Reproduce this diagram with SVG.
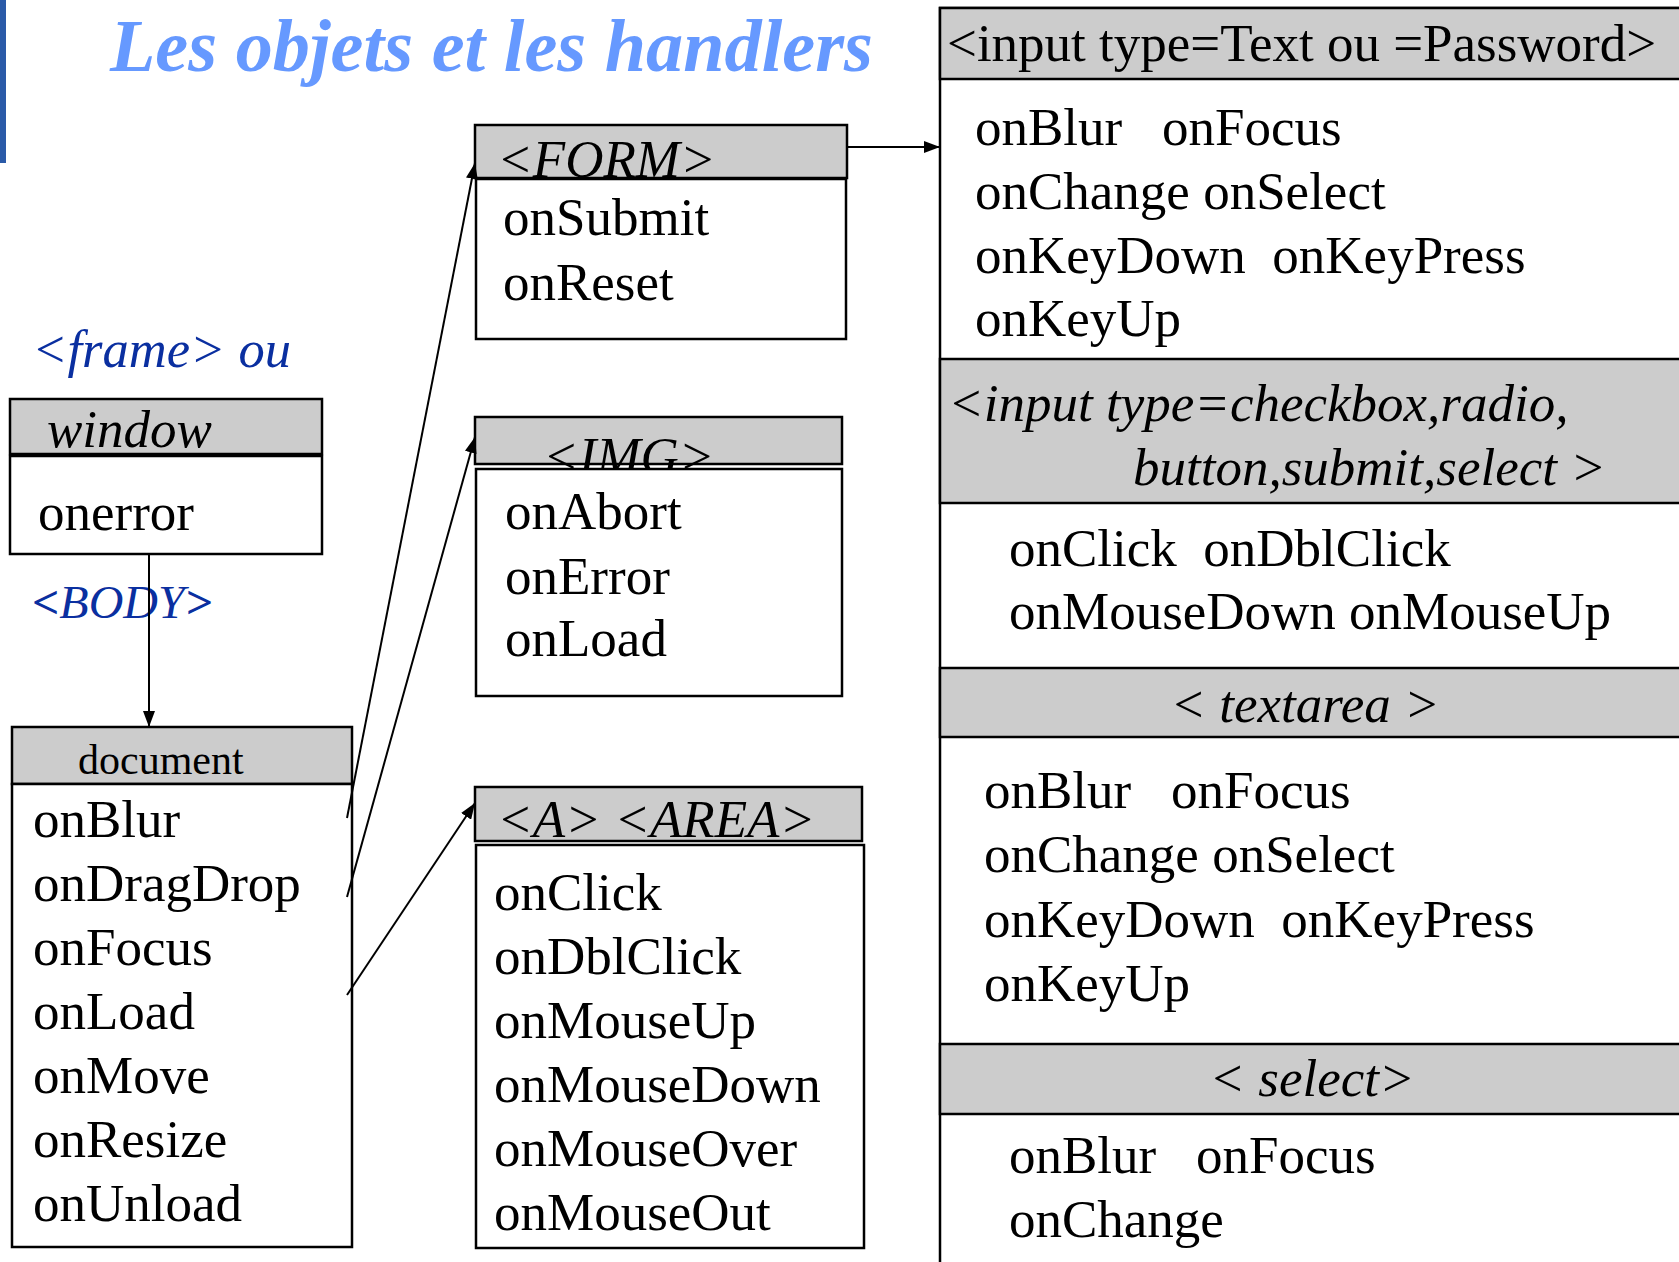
<svg xmlns="http://www.w3.org/2000/svg" width="1679" height="1262" viewBox="0 0 1679 1262">
  <style>
    text { font-family: "Liberation Serif", "Times New Roman", serif; fill: #000; }
    .t { font-size: 53px; }
    .it { font-size: 53px; font-style: italic; }
    .title { font-size: 74px; font-style: italic; font-weight: bold; fill: #6699ff; }
    .blue { font-size: 52px; font-style: italic; fill: #0a2fa0; }
    .hdr { fill: #cccccc; stroke: #000; stroke-width: 2.5; }
    .box { fill: #ffffff; stroke: #000; stroke-width: 2.5; }
    .link { stroke: #000; stroke-width: 2; fill: none; marker-end: url(#arrow); }
  </style>
  <defs>
    <marker id="arrow" viewBox="0 0 16 12" refX="16" refY="6" markerWidth="16" markerHeight="12" markerUnits="userSpaceOnUse" orient="auto">
      <path d="M0,0 L16,6 L0,12 z" fill="#000"/>
    </marker>
  </defs>

  <rect width="1679" height="1262" fill="#ffffff"/>

  <!-- slide accent bar and title -->
  <rect x="0" y="0" width="6" height="163" fill="#2a5aa8"/>
  <text class="title" x="110" y="71" textLength="763" lengthAdjust="spacingAndGlyphs">Les objets et les handlers</text>

  <!-- labels -->
  <text class="blue" x="32" y="367" textLength="259" lengthAdjust="spacingAndGlyphs">&lt;frame&gt; ou</text>
  <text class="blue" x="32" y="618" style="font-size:47px" textLength="180" lengthAdjust="spacingAndGlyphs"><tspan font-weight="bold">&lt;</tspan>BODY<tspan font-weight="bold">&gt;</tspan></text>

  <!-- window -->
  <g id="window">
    <rect class="hdr" x="10" y="399" width="312" height="55"/>
    <rect class="box" x="10" y="456" width="312" height="98"/>
    <text class="it" x="47" y="447">window</text>
    <text class="t" x="38" y="530">onerror</text>
  </g>

  <!-- document -->
  <g id="document">
    <rect class="hdr" x="12" y="727" width="340" height="57"/>
    <rect class="box" x="12" y="784" width="340" height="463"/>
    <text class="t" x="78" y="774" style="font-size:42px">document</text>
    <text class="t" x="33" y="837">onBlur</text>
    <text class="t" x="33" y="901">onDragDrop</text>
    <text class="t" x="33" y="965">onFocus</text>
    <text class="t" x="33" y="1029">onLoad</text>
    <text class="t" x="33" y="1093">onMove</text>
    <text class="t" x="33" y="1157">onResize</text>
    <text class="t" x="33" y="1221">onUnload</text>
  </g>

  <!-- FORM -->
  <g id="form">
    <rect class="hdr" x="475" y="125" width="372" height="53"/>
    <text class="it" x="497" y="177">&lt;FORM&gt;</text>
    <rect class="box" x="476" y="179" width="370" height="160"/>
    <text class="t" x="503" y="235">onSubmit</text>
    <text class="t" x="503" y="300">onReset</text>
  </g>

  <!-- IMG -->
  <g id="img">
    <rect class="hdr" x="475" y="417" width="367" height="47"/>
    <text class="it" x="543" y="474">&lt;IMG&gt;</text>
    <rect class="box" x="476" y="469" width="366" height="227"/>
    <text class="t" x="505" y="529">onAbort</text>
    <text class="t" x="505" y="594">onError</text>
    <text class="t" x="505" y="656">onLoad</text>
  </g>

  <!-- A / AREA -->
  <g id="anchor">
    <rect class="hdr" x="475" y="787" width="387" height="54"/>
    <text class="it" x="497" y="837">&lt;A&gt; &lt;AREA&gt;</text>
    <rect class="box" x="476" y="845" width="388" height="403"/>
    <text class="t" x="494" y="910">onClick</text>
    <text class="t" x="494" y="974">onDblClick</text>
    <text class="t" x="494" y="1038">onMouseUp</text>
    <text class="t" x="494" y="1102">onMouseDown</text>
    <text class="t" x="494" y="1166">onMouseOver</text>
    <text class="t" x="494" y="1230">onMouseOut</text>
  </g>

  <!-- form fields panel -->
  <g id="fields">
    <rect class="box" x="940" y="8" width="760" height="1300"/>
    <rect class="hdr" x="940" y="8" width="760" height="71"/>
    <rect class="hdr" x="940" y="359" width="760" height="144"/>
    <rect class="hdr" x="940" y="668" width="760" height="69"/>
    <rect class="hdr" x="940" y="1044" width="760" height="70"/>
  </g>

  <g id="input-text">
    <text class="t" x="947" y="61">&lt;input type=Text ou =Password&gt;</text>
    <text class="t" x="975" y="145" xml:space="preserve">onBlur   onFocus</text>
    <text class="t" x="975" y="209" xml:space="preserve">onChange onSelect</text>
    <text class="t" x="975" y="273" xml:space="preserve">onKeyDown  onKeyPress</text>
    <text class="t" x="975" y="336">onKeyUp</text>
  </g>

  <g id="input-button">
    <text class="it" x="948" y="421">&lt;input type=checkbox,radio,</text>
    <text class="it" x="1133" y="485">button,submit,select &gt;</text>
    <text class="t" x="1009" y="566" xml:space="preserve">onClick  onDblClick</text>
    <text class="t" x="1009" y="629" xml:space="preserve">onMouseDown onMouseUp</text>
  </g>

  <g id="textarea">
    <text class="it" x="1305" y="722" text-anchor="middle" xml:space="preserve">&lt; textarea &gt;</text>
    <text class="t" x="984" y="808" xml:space="preserve">onBlur   onFocus</text>
    <text class="t" x="984" y="872" xml:space="preserve">onChange onSelect</text>
    <text class="t" x="984" y="937" xml:space="preserve">onKeyDown  onKeyPress</text>
    <text class="t" x="984" y="1001">onKeyUp</text>
  </g>

  <g id="select">
    <text class="it" x="1312" y="1096" text-anchor="middle" xml:space="preserve">&lt; select&gt;</text>
    <text class="t" x="1009" y="1173" xml:space="preserve">onBlur   onFocus</text>
    <text class="t" x="1009" y="1237">onChange</text>
  </g>

  <!-- connectors -->
  <g id="connectors">
    <line class="link" x1="149" y1="554" x2="149" y2="727"/>
    <line class="link" x1="347" y1="818" x2="475" y2="163"/>
    <line class="link" x1="347" y1="897" x2="475" y2="437"/>
    <line class="link" x1="347" y1="995" x2="475" y2="803"/>
    <line class="link" x1="846" y1="147" x2="940" y2="147"/>
  </g>
</svg>
